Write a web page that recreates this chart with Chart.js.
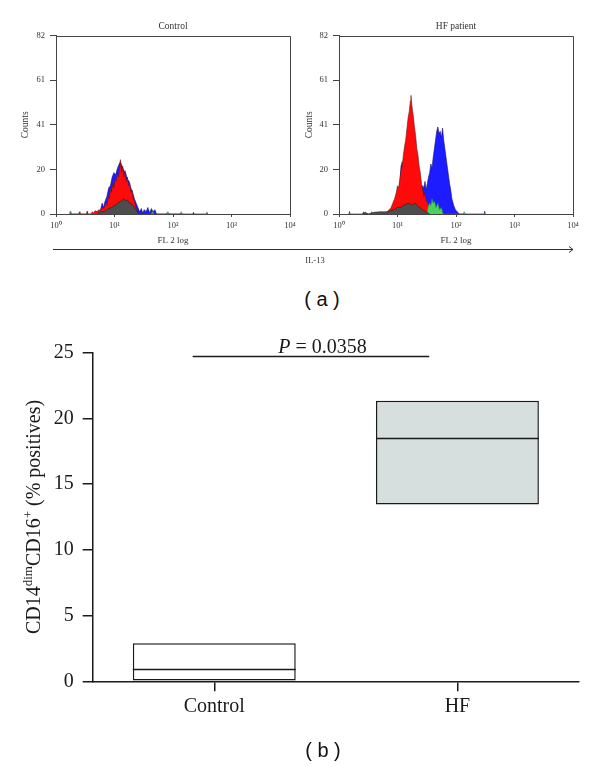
<!DOCTYPE html>
<html>
<head>
<meta charset="utf-8">
<script src="https://cdn.jsdelivr.net/npm/chart.js@4.4.1/dist/chart.umd.min.js"></script>
<style>
  html, body { margin: 0; padding: 0; background: #fff; }
  #fig { position: relative; width: 600px; height: 767px; overflow: hidden; }
  #fig canvas, #fig svg { position: absolute; }
  .cap { position: absolute; width: 100px; height: 24px; line-height: 24px; text-align: center;
         font: 20px 'Liberation Sans', Arial, sans-serif; color: #111; white-space: pre; }
</style>
</head>
<body>
<div id="fig">
  <canvas id="histCtrl" width="300" height="270" style="left:0;top:0;width:300px;height:270px"></canvas>
  <canvas id="histHF" width="300" height="270" style="left:300px;top:0;width:300px;height:270px"></canvas>
  <svg width="600" height="270" style="left:0;top:0">
    <line x1="53" y1="249.5" x2="573" y2="249.5" stroke="#333" stroke-width="1"/>
    <polyline points="569,246.5 573,249.5 569,252.5" fill="none" stroke="#333" stroke-width="1"/>
    <text x="315" y="263" font-family="Liberation Serif" font-size="8.5" fill="#333" text-anchor="middle">IL-13</text>
  </svg>
  <div class="cap" style="left:272px;top:288px">( a )</div>
  <canvas id="boxChart" width="600" height="437" style="left:0;top:330px;width:600px;height:437px"></canvas>
  <div class="cap" style="left:273px;top:739px">( b )</div>
</div>
<script>
// ---- (a) IL-13 histograms: [log10 FL2, counts]
const yTicksTop = [0, 20.5, 41, 61.5, 82];
const logDecades = [0, 1, 2, 3, 4];

const ctrlRed = [
  [0.24,0],[0.25,1.2],[0.26,0],[0.39,0],[0.40,1],[0.41,0],[0.52,0],[0.53,1.2],[0.54,0],
  [0.60,0],[0.62,1],[0.64,0.5],[0.67,1.5],[0.70,1],[0.73,2],[0.76,1.5],[0.79,3],[0.82,2.5],
  [0.85,5],[0.87,4],[0.89,8],[0.91,7],[0.93,11],[0.95,10],[0.97,14],[0.99,12],[1.01,16],
  [1.03,15],[1.05,19],[1.07,17],[1.09,22],[1.10,25],[1.12,19],[1.14,22],[1.16,17],[1.18,20],
  [1.20,15],[1.22,17],[1.24,13],[1.26,14],[1.28,10],[1.30,11],[1.32,7],[1.34,6],[1.36,3.5],
  [1.38,2],[1.40,0]
];
const ctrlBlue = [
  [0.68,0],[0.69,1.2],[0.70,0],[0.74,0],[0.77,3],[0.79,5],[0.81,3],[0.84,6],[0.87,8],
  [0.90,12],[0.93,13],[0.96,17],[0.99,19],[1.02,18],[1.05,21],[1.08,23],[1.10,24],[1.13,22],
  [1.16,20],[1.19,19],[1.22,16],[1.25,15],[1.28,12],[1.31,10],[1.34,7],[1.37,5],[1.40,3],
  [1.43,1],[1.46,2.5],[1.48,0.5],[1.51,2],[1.54,1],[1.57,3],[1.60,0.5],[1.63,2.5],[1.66,1],
  [1.69,2],[1.72,0]
];
const ctrlGray = [
  [0.70,0],[0.74,0.8],[0.80,1],[0.85,1.5],[0.90,2.5],[0.95,3],[1.00,4],[1.04,4.5],[1.08,5.5],
  [1.12,6],[1.16,7],[1.19,6],[1.22,6.5],[1.26,5],[1.30,4.5],[1.34,3],[1.38,1.5],[1.41,0],
  [2.34,0],[2.35,0.8],[2.36,0],[2.57,0],[2.58,0.8],[2.59,0]
];
const ctrlGreen = [
  [0.23,0],[0.24,1],[0.25,0],[1.62,0],[1.65,1.2],[1.68,0],[1.88,0],[1.91,1],[1.94,0],
  [2.12,0],[2.14,1],[2.16,0]
];

const hfRed = [
  [0.17,0],[0.18,1.2],[0.19,0],[0.41,0],[0.42,1],[0.43,0],[0.55,0],[0.56,1],[0.57,0],
  [0.78,0],[0.82,1],[0.86,2],[0.89,3],[0.92,5],[0.95,7],[0.98,10],[1.00,13],[1.02,12],
  [1.04,16],[1.06,20],[1.08,22],[1.10,27],[1.12,31],[1.14,34],[1.16,39],[1.18,44],[1.20,47],
  [1.22,52],[1.23,54.5],[1.25,49],[1.27,45],[1.29,40],[1.31,36],[1.33,30],[1.35,27],[1.37,22],
  [1.39,19],[1.41,14],[1.43,11],[1.45,8],[1.47,10],[1.49,6],[1.52,5],[1.55,3],[1.58,4],
  [1.61,2],[1.64,3],[1.67,1],[1.70,2],[1.73,1],[1.76,0]
];
const hfBlue = [
  [0.95,0],[0.98,3],[1.00,8],[1.02,11],[1.04,14],[1.06,22],[1.08,24],[1.10,20],[1.13,10],
  [1.20,5],[1.30,5],[1.38,6],[1.41,10],[1.43,13],[1.45,12],[1.47,15],[1.49,11],[1.51,14],
  [1.53,17],[1.55,19],[1.57,23],[1.59,21],[1.61,26],[1.63,30],[1.65,34],[1.67,38],[1.69,40],
  [1.71,37],[1.73,38],[1.75,35],[1.77,39.5],[1.79,34],[1.81,30],[1.83,26],[1.85,22],[1.87,18],
  [1.89,14],[1.91,11],[1.93,7],[1.96,4],[1.99,2],[2.02,1],[2.06,0],[2.48,0],[2.49,1.3],[2.50,0]
];
const hfGreen = [
  [1.50,0],[1.52,3],[1.55,5],[1.57,4],[1.59,7],[1.61,5],[1.63,6],[1.66,3],[1.69,5],[1.72,2],
  [1.75,3],[1.78,0],[2.12,0],[2.14,1],[2.16,0]
];
const hfGray = [
  [0.40,0],[0.45,0.8],[0.50,0],[0.60,0.8],[0.70,1],[0.80,1],[0.88,1.5],[0.94,2],[1.00,3],
  [1.05,3],[1.10,4],[1.15,4.5],[1.20,5],[1.25,4],[1.30,5],[1.35,3.5],[1.40,2.5],[1.45,1.5],
  [1.50,0.8],[1.55,0]
];

// ---- (b) CD14dim CD16+ boxes
const groups = ['Control', 'HF'];
const q1 = [0, 13.46];
const median = [0.91, 18.52];
const q3 = [2.9, 21.34];
const pText = '0.0358';

const serif = 'Liberation Serif';
const sup = ['\u2070', '\u00b9', '\u00b2', '\u00b3', '\u2074'];

const frameBox = {
  id: 'frameBox',
  afterDraw(chart) {
    const { ctx, chartArea: a } = chart;
    ctx.save();
    ctx.strokeStyle = '#444';
    ctx.lineWidth = 1;
    ctx.beginPath();
    ctx.moveTo(Math.round(a.left), Math.round(a.top) + 0.5);
    ctx.lineTo(Math.round(a.right) + 0.5, Math.round(a.top) + 0.5);
    ctx.lineTo(Math.round(a.right) + 0.5, Math.round(a.bottom));
    ctx.stroke();
    ctx.restore();
  }
};

function area(points, fill, edge, order) {
  return {
    data: points.map(p => ({ x: p[0], y: p[1] })),
    backgroundColor: fill,
    borderColor: edge,
    borderWidth: 0.6,
    fill: 'origin',
    pointRadius: 0,
    tension: 0,
    order: order
  };
}

function histogram(id, title, sets, yWidth, countsPad, padRight) {
  return new Chart(document.getElementById(id), {
    type: 'line',
    data: {
      datasets: [
        area(sets.gray, '#4d4d4d', '#222', 0),
        area(sets.green, '#49d35a', '#2a8a40', 1),
        area(sets.red, '#ff0a0a', '#6a1a1a', 2),
        area(sets.blue, '#1c1cff', '#141470', 3)
      ]
    },
    options: {
      responsive: false,
      animation: false,
      events: [],
      layout: { padding: { left: 0, right: padRight, top: 0, bottom: 0 } },
      plugins: {
        legend: { display: false },
        tooltip: { enabled: false },
        title: {
          display: true, text: title, fullSize: false, color: '#333',
          font: { family: serif, size: 9.5, weight: 'normal' },
          padding: { top: 20.6, bottom: 3.6 }
        }
      },
      scales: {
        x: {
          type: 'linear', min: 0, max: 4,
          afterBuildTicks: s => { s.ticks = logDecades.map(v => ({ value: v })); },
          afterFit: s => { s.height = 56; },
          grid: { drawOnChartArea: false, tickLength: 3, color: '#444' },
          border: { color: '#444', width: 1 },
          ticks: { color: '#333', padding: 4, maxRotation: 0, font: { family: serif, size: 8.5 },
                   callback: v => '10' + sup[v] },
          title: { display: true, text: 'FL 2 log', color: '#333',
                   font: { family: serif, size: 9 }, padding: { top: 0, bottom: 23.5 } }
        },
        y: {
          min: 0, max: 82,
          afterBuildTicks: s => { s.ticks = yTicksTop.map(v => ({ value: v })); },
          afterFit: s => { s.width = yWidth; },
          grid: { drawOnChartArea: false, tickLength: 6, color: '#444' },
          border: { color: '#444', width: 1 },
          ticks: { color: '#333', padding: 5, font: { family: serif, size: 8.5 },
                   callback: v => String(Math.floor(v)) },
          title: { display: true, text: 'Counts', color: '#333',
                   font: { family: serif, size: 9.5 }, padding: { top: countsPad, bottom: 0 } }
        }
      }
    },
    plugins: [frameBox]
  });
}

histogram('histCtrl', 'Control',
  { red: ctrlRed, blue: ctrlBlue, gray: ctrlGray, green: ctrlGreen }, 56, 20.2, 10);
histogram('histHF', 'HF patient',
  { red: hfRed, blue: hfBlue, gray: hfGray, green: hfGreen }, 39, 4.2, 27);

// ---- (b) box chart
const yTitleParts = [
  { t: 'CD14', size: 20, rise: 0 },
  { t: 'dim', size: 13, rise: 8 },
  { t: 'CD16', size: 20, rise: 0 },
  { t: '+', size: 13, rise: 8 },
  { t: ' (% positives)', size: 20, rise: 0 }
];

const boxDecor = {
  id: 'boxDecor',
  afterDatasetsDraw(chart) {
    // median lines across each box
    const { ctx, scales: { y } } = chart;
    const meta = chart.getDatasetMeta(0);
    ctx.save();
    ctx.strokeStyle = '#1a1a1a';
    ctx.lineWidth = 1.5;
    meta.data.forEach((bar, i) => {
      const { x, width } = bar.getProps(['x', 'width'], true);
      const ym = Math.round(y.getPixelForValue(median[i])) + 0.5;
      ctx.beginPath();
      ctx.moveTo(x - width / 2, ym);
      ctx.lineTo(x + width / 2, ym);
      ctx.stroke();
    });
    ctx.restore();
  },
  afterDraw(chart) {
    const { ctx, chartArea: a, scales: { x, y } } = chart;
    ctx.save();
    ctx.fillStyle = '#1a1a1a';
    ctx.textBaseline = 'alphabetic';
    // rotated y title with superscripts
    let total = 0;
    yTitleParts.forEach(p => { ctx.font = p.size + 'px ' + serif; total += ctx.measureText(p.t).width; });
    ctx.translate(40, (a.top + a.bottom) / 2);
    ctx.rotate(-Math.PI / 2);
    let cx = -total / 2;
    yTitleParts.forEach(p => {
      ctx.font = p.size + 'px ' + serif;
      ctx.fillText(p.t, cx, -p.rise);
      cx += ctx.measureText(p.t).width;
    });
    ctx.restore();

    // significance bar
    ctx.save();
    const yl = Math.round(y.getPixelForValue(24.74)) + 0.5;
    ctx.strokeStyle = '#1a1a1a';
    ctx.lineWidth = 1.5;
    ctx.beginPath();
    ctx.moveTo(x.getPixelForValue(-0.089), yl);
    ctx.lineTo(x.getPixelForValue(0.884), yl);
    ctx.stroke();
    ctx.fillStyle = '#1a1a1a';
    ctx.font = 'italic 20px ' + serif;
    const wP = ctx.measureText('P').width;
    ctx.font = '20px ' + serif;
    const rest = ' = ' + pText;
    const wR = ctx.measureText(rest).width;
    const tx = x.getPixelForValue(0.445) - (wP + wR) / 2;
    ctx.font = 'italic 20px ' + serif;
    ctx.fillText('P', tx, yl - 4);
    ctx.font = '20px ' + serif;
    ctx.fillText(rest, tx + wP, yl - 4);
    ctx.restore();
  }
};

new Chart(document.getElementById('boxChart'), {
  type: 'bar',
  data: {
    labels: groups,
    datasets: [{
      data: groups.map((g, i) => [q1[i], q3[i]]),
      backgroundColor: ['#ffffff', '#d7dfde'],
      borderColor: '#1a1a1a',
      borderWidth: 1.5,
      borderSkipped: false,
      barPercentage: 1,
      categoryPercentage: 0.67
    }]
  },
  options: {
    responsive: false,
    animation: false,
    events: [],
    layout: { padding: { left: 0, right: 21, top: 22.7, bottom: 0 } },
    plugins: { legend: { display: false }, tooltip: { enabled: false } },
    scales: {
      x: {
        offset: true,
        afterFit: s => { s.height = 85.7; },
        grid: { offset: false, drawOnChartArea: false, tickLength: 10, color: '#1a1a1a', lineWidth: 1.5 },
        border: { color: '#1a1a1a', width: 1.5 },
        ticks: { color: '#1a1a1a', padding: 3, font: { family: serif, size: 20 } }
      },
      y: {
        min: 0, max: 25,
        afterFit: s => { s.width = 92.7; },
        grid: { drawOnChartArea: false, tickLength: 10, color: '#1a1a1a', lineWidth: 1.5 },
        border: { color: '#1a1a1a', width: 1.5 },
        ticks: { stepSize: 5, color: '#1a1a1a', padding: 9, font: { family: serif, size: 20 } }
      }
    }
  },
  plugins: [boxDecor]
});
</script>
</body>
</html>
